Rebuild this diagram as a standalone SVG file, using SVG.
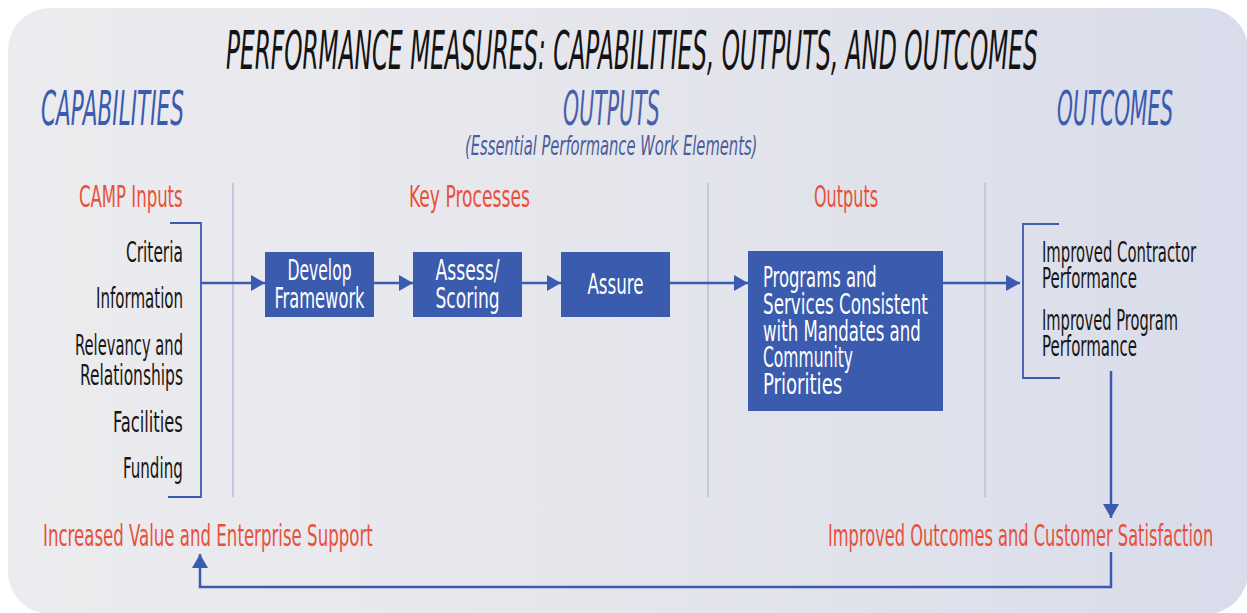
<svg xmlns="http://www.w3.org/2000/svg" width="1247" height="613" viewBox="0 0 1247 613">
<defs>
<linearGradient id="bg" x1="0" y1="0" x2="1" y2="0">
<stop offset="0" stop-color="#ececef"/>
<stop offset="0.5" stop-color="#e5e6ec"/>
<stop offset="1" stop-color="#d9dcea"/>
</linearGradient>
<marker id="ah" viewBox="0 0 14 16" refX="14" refY="8" markerWidth="14" markerHeight="16" markerUnits="userSpaceOnUse" orient="auto">
<path d="M0,0 L14,8 L0,16 Z" fill="#3a5bb0"/>
</marker>
<style>
text{font-family:"Liberation Sans Narrow","DejaVu Sans Condensed","Liberation Sans",sans-serif;}
.title{font-size:54px;font-style:italic;fill:#141414;}
.sec{font-size:48px;font-style:italic;fill:#3a5bb0;}
.sub{font-size:26px;font-style:italic;fill:#4a5c9c;}
.hdr{font-size:30px;fill:#e8503a;}
.item{font-size:29px;fill:#161616;}
.bx{font-size:28px;fill:#ffffff;}
.box{fill:#3a5bae;}
.sep{stroke:#c2c9df;stroke-width:2;fill:none;}
.ln{stroke:#3a5bb0;stroke-width:2.5;fill:none;}
.br{stroke:#3a5bb0;stroke-width:1.8;fill:none;}
</style>
</defs>
<rect x="8" y="8" width="1240" height="606" rx="42" ry="42" fill="url(#bg)"/>

<g id="headings">
<text class="title" transform="translate(226,69) scale(0.55,1)" textLength="1476" lengthAdjust="spacingAndGlyphs">PERFORMANCE MEASURES: CAPABILITIES, OUTPUTS, AND OUTCOMES</text>
<text class="sec" transform="translate(41,125) scale(0.55,1)" textLength="260" lengthAdjust="spacingAndGlyphs">CAPABILITIES</text>
<text class="sec" transform="translate(563,125) scale(0.55,1)" textLength="176" lengthAdjust="spacingAndGlyphs" style="fill:#4860a8">OUTPUTS</text>
<text class="sub" transform="translate(465,155) scale(0.72,1)" textLength="406" lengthAdjust="spacingAndGlyphs">(Essential Performance Work Elements)</text>
<text class="sec" transform="translate(1057,125) scale(0.55,1)" textLength="211" lengthAdjust="spacingAndGlyphs">OUTCOMES</text>
<text class="hdr" transform="translate(79,207) scale(0.72,1)" textLength="144" lengthAdjust="spacingAndGlyphs">CAMP Inputs</text>
<text class="hdr" transform="translate(409,207) scale(0.72,1)" textLength="168" lengthAdjust="spacingAndGlyphs">Key Processes</text>
<text class="hdr" transform="translate(814,207) scale(0.72,1)" textLength="89" lengthAdjust="spacingAndGlyphs">Outputs</text>
</g>

<g id="separators">
<line class="sep" x1="233" y1="183" x2="233" y2="497"/>
<line class="sep" x1="708" y1="183" x2="708" y2="497"/>
<line class="sep" x1="985" y1="183" x2="985" y2="497"/>
</g>

<g id="camp-inputs">
<text class="item" transform="translate(126,262) scale(0.72,1)" textLength="79" lengthAdjust="spacingAndGlyphs">Criteria</text>
<text class="item" transform="translate(96,308) scale(0.72,1)" textLength="121" lengthAdjust="spacingAndGlyphs">Information</text>
<text class="item" transform="translate(75,355) scale(0.72,1)" textLength="150" lengthAdjust="spacingAndGlyphs">Relevancy and</text>
<text class="item" transform="translate(80,385) scale(0.72,1)" textLength="143" lengthAdjust="spacingAndGlyphs">Relationships</text>
<text class="item" transform="translate(113,432) scale(0.72,1)" textLength="97" lengthAdjust="spacingAndGlyphs">Facilities</text>
<text class="item" transform="translate(123,478) scale(0.72,1)" textLength="83" lengthAdjust="spacingAndGlyphs">Funding</text>
<path class="br" d="M170,223 H201 V497 H168"/>
</g>

<g id="develop-framework">
<rect class="box" x="265" y="252" width="109" height="65"/>
<text class="bx" transform="translate(319.5,280) scale(0.72,1)" text-anchor="middle" textLength="89" lengthAdjust="spacingAndGlyphs">Develop</text>
<text class="bx" transform="translate(319.5,308) scale(0.72,1)" text-anchor="middle" textLength="125" lengthAdjust="spacingAndGlyphs">Framework</text>
</g>

<g id="assess-scoring">
<rect class="box" x="413" y="252" width="109" height="65"/>
<text class="bx" transform="translate(467.5,280) scale(0.72,1)" text-anchor="middle" textLength="89" lengthAdjust="spacingAndGlyphs">Assess/</text>
<text class="bx" transform="translate(467.5,308) scale(0.72,1)" text-anchor="middle" textLength="89" lengthAdjust="spacingAndGlyphs">Scoring</text>
</g>

<g id="assure">
<rect class="box" x="561" y="252" width="109" height="65"/>
<text class="bx" transform="translate(615.5,294) scale(0.72,1)" text-anchor="middle" textLength="78" lengthAdjust="spacingAndGlyphs">Assure</text>
</g>

<g id="programs-services">
<rect class="box" x="748" y="251" width="195" height="160"/>
<text class="bx" transform="translate(763,287) scale(0.72,1)" textLength="158" lengthAdjust="spacingAndGlyphs">Programs and</text>
<text class="bx" transform="translate(763,314) scale(0.72,1)" textLength="229" lengthAdjust="spacingAndGlyphs">Services Consistent</text>
<text class="bx" transform="translate(763,341) scale(0.72,1)" textLength="219" lengthAdjust="spacingAndGlyphs">with Mandates and</text>
<text class="bx" transform="translate(763,367) scale(0.72,1)" textLength="125" lengthAdjust="spacingAndGlyphs">Community</text>
<text class="bx" transform="translate(763,394) scale(0.72,1)" textLength="110" lengthAdjust="spacingAndGlyphs">Priorities</text>
</g>

<g id="outcomes-list">
<path class="br" d="M1059,224 H1023 V378 H1060"/>
<text class="item" transform="translate(1042,262) scale(0.72,1)" textLength="214" lengthAdjust="spacingAndGlyphs">Improved Contractor</text>
<text class="item" transform="translate(1042,288) scale(0.72,1)" textLength="132" lengthAdjust="spacingAndGlyphs">Performance</text>
<text class="item" transform="translate(1042,330) scale(0.72,1)" textLength="189" lengthAdjust="spacingAndGlyphs">Improved Program</text>
<text class="item" transform="translate(1042,356) scale(0.72,1)" textLength="132" lengthAdjust="spacingAndGlyphs">Performance</text>
</g>

<g id="improved-outcomes">
<text class="hdr" transform="translate(828,546) scale(0.72,1)" textLength="535" lengthAdjust="spacingAndGlyphs">Improved Outcomes and Customer Satisfaction</text>
</g>

<g id="increased-value">
<text class="hdr" transform="translate(43,546) scale(0.72,1)" textLength="458" lengthAdjust="spacingAndGlyphs">Increased Value and Enterprise Support</text>
</g>

<g id="connectors">
<line class="ln" x1="201" y1="283" x2="265" y2="283" marker-end="url(#ah)"/>
<line class="ln" x1="374" y1="283" x2="413" y2="283" marker-end="url(#ah)"/>
<line class="ln" x1="522" y1="283" x2="561" y2="283" marker-end="url(#ah)"/>
<line class="ln" x1="670" y1="283" x2="748" y2="283" marker-end="url(#ah)"/>
<line class="ln" x1="943" y1="283" x2="1020" y2="283" marker-end="url(#ah)"/>
<line class="ln" x1="1111" y1="371" x2="1111" y2="518" marker-end="url(#ah)"/>
<path class="ln" d="M1111,552 V587 H200 V554" marker-end="url(#ah)"/>
</g>
</svg>
